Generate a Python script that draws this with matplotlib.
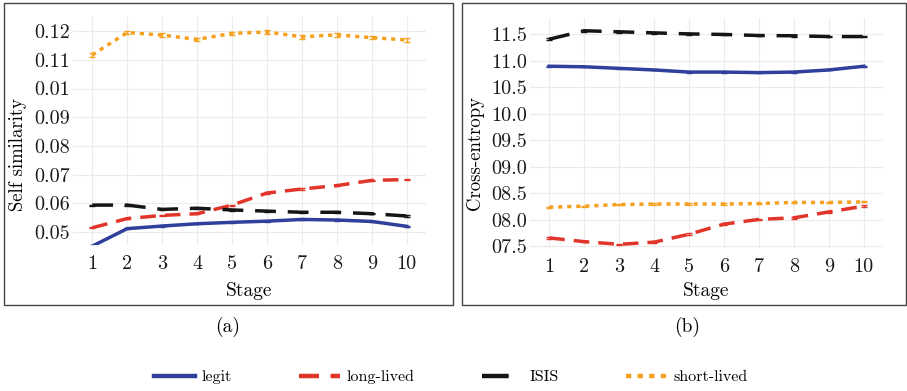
import matplotlib
matplotlib.use("Agg")
import matplotlib.pyplot as plt
from matplotlib.lines import Line2D
from matplotlib.patches import Rectangle

plt.rcParams['font.family'] = ['cmr10', 'DejaVu Serif']
plt.rcParams['mathtext.fontset'] = 'cm'
plt.rcParams['axes.unicode_minus'] = False

stages = [1, 2, 3, 4, 5, 6, 7, 8, 9, 10]
series = ["legit", "long-lived", "ISIS", "short-lived"]
colors = {"legit": "#2f3f9c", "long-lived": "#e2352a", "ISIS": "#151515", "short-lived": "#f5a01f"}
styles = {"legit": "-", "long-lived": (0, (4.5, 2.6)), "ISIS": (0, (6, 3.4)), "short-lived": (0, (1.2, 1.4))}

# (a) self similarity
sim_legit = [0.0451, 0.0512, 0.0521, 0.0529, 0.0534, 0.0538, 0.0544, 0.0542, 0.0537, 0.0520]
sim_long = [0.0515, 0.0547, 0.0558, 0.0564, 0.0594, 0.0636, 0.0650, 0.0662, 0.0680, 0.0683]
sim_isis = [0.0594, 0.0594, 0.0579, 0.0583, 0.0577, 0.0573, 0.0569, 0.0569, 0.0564, 0.0556]
sim_short = [0.1117, 0.1195, 0.1186, 0.1171, 0.1192, 0.1197, 0.1180, 0.1187, 0.1177, 0.1169]
sim_err = {"legit": 0.0002, "long-lived": 0.0002, "ISIS": 0.0002, "short-lived": 0.0006}
sim_ticks = [0.05, 0.06, 0.07, 0.08, 0.09, 0.10, 0.11, 0.12]
sim_labels = ["0.05", "0.06", "0.07", "0.08", "0.09", "0.01", "0.11", "0.12"]

# (b) cross-entropy
ce_legit = [10.90, 10.89, 10.86, 10.83, 10.79, 10.79, 10.78, 10.79, 10.83, 10.90]
ce_long = [7.66, 7.59, 7.54, 7.58, 7.73, 7.92, 8.01, 8.04, 8.15, 8.26]
ce_isis = [11.41, 11.57, 11.55, 11.53, 11.51, 11.50, 11.48, 11.475, 11.46, 11.46]
ce_short = [8.24, 8.26, 8.29, 8.30, 8.30, 8.30, 8.31, 8.33, 8.33, 8.34]
ce_err = {"legit": 0.01, "long-lived": 0.015, "ISIS": 0.015, "short-lived": 0.01}
ce_ticks = [7.5, 8.0, 8.5, 9.0, 9.5, 10.0, 10.5, 11.0, 11.5]
ce_labels = ["07.5", "08.0", "08.5", "09.0", "09.5", "10.0", "10.5", "11.0", "11.5"]

fig = plt.figure(figsize=(9.07, 3.91), dpi=100)

# panel frames
fig.patches.append(Rectangle((0.0044, 0.22), 0.495, 0.7724, transform=fig.transFigure,
                             fill=False, edgecolor="#444444", lw=1.0))
fig.patches.append(Rectangle((0.5094, 0.22), 0.4895, 0.7724, transform=fig.transFigure,
                             fill=False, edgecolor="#444444", lw=1.0))

ax1 = fig.add_axes([0.0805, 0.3734, 0.3892, 0.5831])
ax2 = fig.add_axes([0.5843, 0.3657, 0.3892, 0.5882])

panels = [
    (ax1, {"legit": sim_legit, "long-lived": sim_long, "ISIS": sim_isis, "short-lived": sim_short},
     sim_err, sim_ticks, sim_labels, (0.0455, 0.1249)),
    (ax2, {"legit": ce_legit, "long-lived": ce_long, "ISIS": ce_isis, "short-lived": ce_short},
     ce_err, ce_ticks, ce_labels, (7.47, 11.81)),
]

for ax, data, err, ticks, labels, ylim in panels:
    for s in series:
        ax.errorbar(stages, data[s], yerr=err[s], color=colors[s], ls=styles[s], lw=2.5,
                    elinewidth=1.0, capsize=2, capthick=1.0, zorder=3)
    ax.set_xlim(0.45, 10.55)
    ax.set_ylim(*ylim)
    ax.set_xticks(stages)
    ax.set_xticklabels([str(v) for v in stages])
    ax.set_yticks(ticks)
    ax.set_yticklabels(labels)
    ax.grid(True, color="#ebebeb", lw=0.8)
    ax.set_axisbelow(True)
    for sp in ax.spines.values():
        sp.set_visible(False)
    ax.tick_params(length=0, labelsize=14.5, pad=2, colors="#1a1a1a")
    ax.tick_params(axis="x", pad=7)

fig.text(0.020, 0.604, "Self similarity", rotation=90, ha="center", va="center", fontsize=13.5)
fig.text(0.524, 0.609, "Cross-entropy", rotation=90, ha="center", va="center", fontsize=13.5)
fig.text(0.2745, 0.256, "Stage", ha="center", va="center", fontsize=14)
fig.text(0.779, 0.256, "Stage", ha="center", va="center", fontsize=14)
fig.text(0.251, 0.163, "(a)", ha="center", va="center", fontsize=14)
fig.text(0.758, 0.163, "(b)", ha="center", va="center", fontsize=14)

handles = [Line2D([0], [0], color=colors[s], ls=styles[s], lw=3.2) for s in series]
fig.legend(handles, series, loc="center", bbox_to_anchor=(0.497, 0.035), ncol=4, frameon=False,
           fontsize=11.5, handlelength=2.6, columnspacing=4.2, handletextpad=0.4)

fig.savefig("out.png", dpi=100)
